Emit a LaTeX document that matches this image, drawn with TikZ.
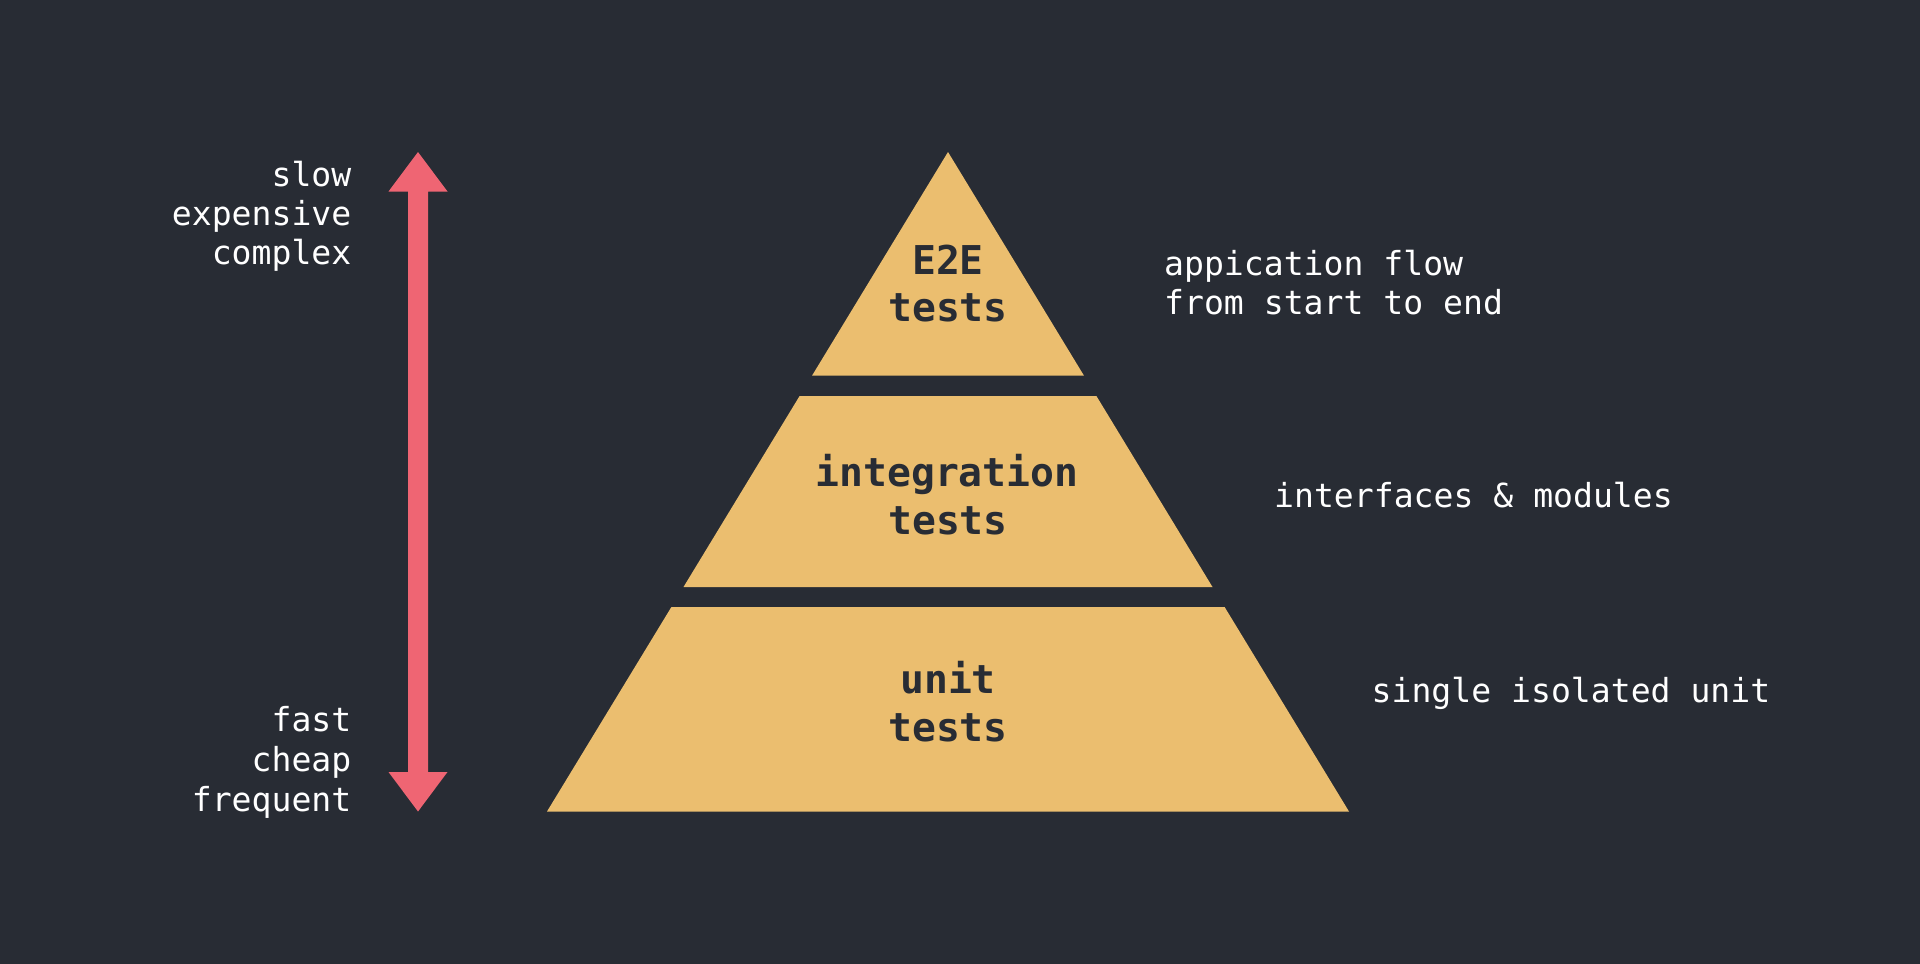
\documentclass[tikz,border=0pt]{standalone}
\usepackage{fontspec}
\setmonofont{DejaVu Sans Mono}
\definecolor{bg}{HTML}{282C34}
\definecolor{pyr}{HTML}{EBBE6F}
\definecolor{arr}{HTML}{EF6573}
\begin{document}
\begin{tikzpicture}[x=1pt,y=-1pt,
  side/.style={font=\fontsize{33.1}{40}\selectfont\ttfamily, text=white, inner sep=0pt},
  lvl/.style={font=\fontsize{39.7}{48}\selectfont\ttfamily\bfseries, text=bg, inner sep=0pt},
  block/.style={fill=pyr}]
\fill[bg] (0,0) rectangle (1920,964);
\useasboundingbox (0,0) rectangle (1920,964);

% pyramid
\fill[block] (948,152) -- (1084,375.7) -- (812,375.7) -- cycle;
\fill[block] (799.6,396) -- (1096.4,396) -- (1212.5,587) -- (683.5,587) -- cycle;
\fill[block] (671.4,607) -- (1224.6,607) -- (1349,811.5) -- (547,811.5) -- cycle;

\node[lvl, anchor=base] (e2e) at (948,274) {E2E};
\node[lvl, anchor=base] (e2et) at (948,321.7) {tests};
\node[lvl, anchor=base] (integ) at (947,486) {integration};
\node[lvl, anchor=base] (integt) at (948,534) {tests};
\node[lvl, anchor=base] (unit) at (948,693) {unit};
\node[lvl, anchor=base] (unitt) at (948,741.7) {tests};

% double arrow
\fill[arr] (418,152) -- (447.5,191.5) -- (428,191.5) -- (428,772) -- (447.5,772)
  -- (418,811.5) -- (388.5,772) -- (408,772) -- (408,191.5) -- (388.5,191.5) -- cycle;

% left labels
\node[side, anchor=base east] (slow) at (351.5,186) {slow};
\node[side, anchor=base east] (expensive) at (351.5,225) {expensive};
\node[side, anchor=base east] (complex) at (351.5,264) {complex};
\node[side, anchor=base east] (fast) at (351.5,731) {fast};
\node[side, anchor=base east] (cheap) at (351.5,771) {cheap};
\node[side, anchor=base east] (frequent) at (351.5,811) {frequent};

% right labels
\node[side, anchor=base west] (flow1) at (1164,275) {appication flow};
\node[side, anchor=base west] (flow2) at (1164,314) {from start to end};
\node[side, anchor=base west] (ifaces) at (1274,507) {interfaces \& modules};
\node[side, anchor=base west] (single) at (1371.5,702) {single isolated unit};
\end{tikzpicture}
\end{document}
